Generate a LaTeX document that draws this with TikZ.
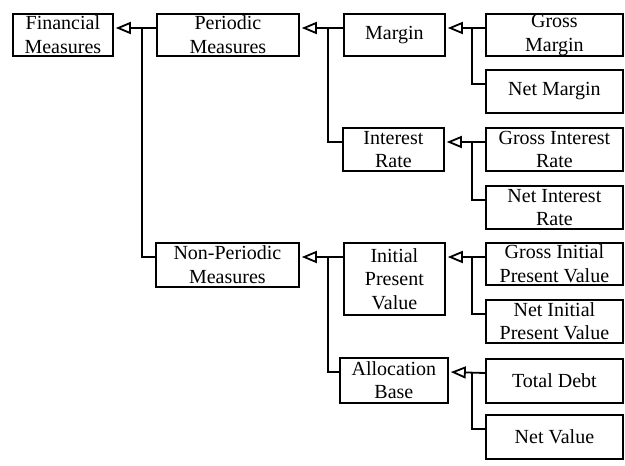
\documentclass[tikz,border=0pt]{standalone}
\usepackage{fontspec}
\setmainfont{Liberation Serif}
\usetikzlibrary{arrows.meta}
\begin{document}
\begin{tikzpicture}[x=1pt,y=-1pt,
  box/.style={draw, line width=1.8pt, inner sep=0pt, anchor=north west,
    align=center, font=\fontsize{20}{23.5}\selectfont},
  link/.style={line width=1.8pt},
  gen/.style={link, -{Triangle[open, length=15pt, width=12pt]}, shorten >=2pt}]
\useasboundingbox (0,0) rectangle (625,466);

% level 0
\node[box, minimum width=100pt, minimum height=42pt] (fm) at (12,13) {Financial\\Measures};
% level 1
\node[box, minimum width=142pt, minimum height=42pt] (pm) at (156,13) {Periodic\\Measures};
\node[box, minimum width=143pt, minimum height=44pt] (npm) at (155,242) {Non-Periodic\\Measures};
% level 2
\node[box, minimum width=101pt, minimum height=42pt] (mg) at (343,13) {Margin};
\node[box, minimum width=101pt, minimum height=43pt] (ir) at (342,127) {Interest\\Rate};
\node[box, minimum width=101pt, minimum height=72pt] (ipv) at (343,242) {Initial\\Present\\Value};
\node[box, minimum width=108pt, minimum height=45pt] (ab) at (339,357) {Allocation\\Base};
% level 3
\node[box, minimum width=137pt, minimum height=42pt] (gm) at (485,13) {Gross\\Margin};
\node[box, minimum width=137pt, minimum height=43pt] (nm) at (485,69) {Net Margin};
\node[box, minimum width=137pt, minimum height=43pt] (gir) at (485,127) {Gross Interest\\Rate};
\node[box, minimum width=137pt, minimum height=43pt] (nir) at (485,185) {Net Interest\\Rate};
\node[box, minimum width=137pt, minimum height=42pt] (gipv) at (485,242) {Gross Initial\\Present Value};
\node[box, minimum width=137pt, minimum height=43pt] (nipv) at (485,299) {Net Initial\\Present Value};
\node[box, minimum width=137pt, minimum height=44pt] (td) at (485,358) {Total Debt};
\node[box, minimum width=137pt, minimum height=44pt] (nv) at (485,414) {Net Value};

% junction points on the trunk lines
\coordinate (jfm) at (142,28);
\coordinate (jpm) at (328,28);
\coordinate (jnpm) at (328,257);
\coordinate (jmg) at (472,28);
\coordinate (jir) at (472,142);
\coordinate (jipv) at (472,257);
\coordinate (jab) at (472,372);

% Financial Measures
\draw[gen] ([yshift=-15pt]pm.north west) -- ([yshift=-15pt]fm.north east);
\draw[link] ([yshift=-15pt]npm.north west) -| (jfm);
% Periodic Measures
\draw[gen] ([yshift=-15pt]mg.north west) -- ([yshift=-15pt]pm.north east);
\draw[link] ([yshift=-15pt]ir.north west) -| (jpm);
% Non-Periodic Measures
\draw[gen] ([yshift=-15pt]ipv.north west) -- ([yshift=-15pt]npm.north east);
\draw[link] ([yshift=-15pt]ab.north west) -| (jnpm);
% Margin
\draw[gen] ([yshift=-15pt]gm.north west) -- ([yshift=-15pt]mg.north east);
\draw[link] ([yshift=-15pt]nm.north west) -| (jmg);
% Interest Rate
\draw[gen] ([yshift=-15pt]gir.north west) -- ([yshift=-15pt]ir.north east);
\draw[link] ([yshift=-15pt]nir.north west) -| (jir);
% Initial Present Value
\draw[gen] ([yshift=-15pt]gipv.north west) -- ([yshift=-15pt]ipv.north east);
\draw[link] ([yshift=-15pt]nipv.north west) -| (jipv);
% Allocation Base
\draw[gen] ([yshift=-15pt]td.north west) -- ([yshift=-15pt]ab.north east);
\draw[link] ([yshift=-15pt]nv.north west) -| (jab);
\end{tikzpicture}
\end{document}
